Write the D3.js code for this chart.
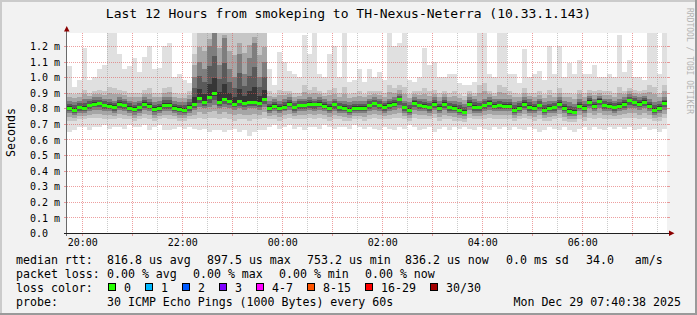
<!DOCTYPE html>
<html><head><meta charset="utf-8">
<script src="https://cdn.jsdelivr.net/npm/d3@7"></script>
<style>
html,body{margin:0;padding:0;background:#f2f2f2;}
svg{display:block;}
text{font-family:"DejaVu Sans Mono",monospace;fill:#000;}
</style></head><body>
<svg id="chart" width="697" height="315"></svg>
<script>
// ---- data (milliseconds), one value per 6-minute column ----
const med = [
0.800,0.790,0.806,0.800,0.820,0.830,0.835,0.820,0.815,0.810,
0.828,0.820,0.805,0.795,0.806,0.828,0.815,0.795,0.800,0.823,
0.823,0.802,0.795,0.790,0.810,0.828,0.864,0.843,0.875,0.897,
0.843,0.860,0.850,0.830,0.845,0.835,0.840,0.840,0.835,0.860,
0.800,0.815,0.800,0.810,0.830,0.806,0.820,0.820,0.828,0.825,
0.830,0.815,0.800,0.825,0.806,0.800,0.790,0.800,0.800,0.800,
0.820,0.832,0.820,0.808,0.822,0.830,0.860,0.806,0.790,0.836,
0.820,0.815,0.806,0.828,0.800,0.828,0.806,0.800,0.790,0.778,
0.830,0.810,0.806,0.820,0.836,0.815,0.820,0.818,0.815,0.790,
0.805,0.828,0.810,0.800,0.820,0.790,0.800,0.806,0.828,0.800,
0.785,0.778,0.815,0.800,0.843,0.815,0.850,0.820,0.815,0.806,
0.815,0.828,0.853,0.840,0.830,0.843,0.815,0.790,0.800,0.836];
const hi = [
1.07,0.94,0.98,1.19,0.98,1.00,1.05,1.08,1.29,1.29,
1.15,1.05,1.07,1.12,1.03,1.13,1.20,1.05,1.06,1.20,
1.22,1.00,1.02,0.98,0.96,1.29,1.29,1.29,1.29,1.29,
1.29,1.29,1.29,1.29,1.29,1.29,1.29,1.29,1.29,1.29,
1.05,0.95,1.16,1.10,1.04,1.02,1.00,1.27,1.15,1.29,
1.02,1.00,1.15,1.20,1.00,1.29,0.97,0.98,1.05,0.97,
1.05,1.00,1.03,0.98,1.29,1.20,1.22,1.29,0.98,0.97,
1.00,1.19,1.08,1.10,1.00,1.00,1.02,1.02,0.96,0.95,
0.95,0.97,1.29,1.29,1.02,1.00,1.29,1.29,1.02,1.02,
0.96,1.18,1.00,1.02,1.04,0.98,1.20,1.02,1.20,1.00,
1.09,1.02,1.11,1.02,1.02,1.08,1.00,1.00,1.02,1.00,
1.27,1.03,1.11,1.00,1.00,0.98,1.29,1.29,1.02,1.29];
const lo = [
0.65,0.66,0.68,0.68,0.66,0.68,0.68,0.69,0.67,0.68,
0.68,0.67,0.69,0.68,0.68,0.69,0.66,0.68,0.69,0.66,
0.66,0.67,0.68,0.67,0.68,0.67,0.66,0.67,0.65,0.66,
0.66,0.65,0.66,0.67,0.65,0.66,0.62,0.65,0.66,0.66,
0.68,0.69,0.67,0.68,0.69,0.67,0.68,0.66,0.68,0.68,
0.67,0.69,0.68,0.67,0.68,0.68,0.67,0.69,0.68,0.67,
0.68,0.67,0.66,0.68,0.67,0.66,0.68,0.67,0.69,0.68,
0.66,0.67,0.68,0.65,0.67,0.68,0.66,0.68,0.67,0.68,
0.67,0.66,0.68,0.67,0.66,0.68,0.67,0.68,0.66,0.68,
0.67,0.66,0.68,0.67,0.65,0.66,0.68,0.67,0.66,0.68,
0.66,0.65,0.67,0.68,0.66,0.68,0.67,0.66,0.68,0.67,
0.68,0.67,0.68,0.66,0.67,0.68,0.66,0.67,0.65,0.67];
const q10 = [
0.72,0.72,0.73,0.73,0.74,0.74,0.74,0.73,0.73,0.73,
0.74,0.73,0.73,0.72,0.73,0.74,0.73,0.72,0.73,0.74,
0.73,0.73,0.72,0.72,0.73,0.73,0.74,0.73,0.74,0.74,
0.73,0.74,0.73,0.72,0.73,0.73,0.72,0.73,0.73,0.74,
0.73,0.73,0.72,0.73,0.74,0.73,0.73,0.73,0.74,0.73,
0.74,0.73,0.72,0.73,0.73,0.72,0.72,0.73,0.73,0.72,
0.73,0.74,0.73,0.73,0.73,0.74,0.74,0.73,0.72,0.74,
0.73,0.73,0.73,0.74,0.72,0.73,0.73,0.72,0.72,0.71,
0.74,0.73,0.73,0.73,0.74,0.73,0.73,0.73,0.73,0.72,
0.73,0.74,0.73,0.72,0.73,0.72,0.72,0.73,0.74,0.72,
0.71,0.71,0.73,0.72,0.74,0.73,0.74,0.73,0.73,0.73,
0.73,0.74,0.74,0.74,0.73,0.74,0.73,0.72,0.72,0.74];
const q25 = [
0.77,0.76,0.77,0.77,0.78,0.79,0.79,0.78,0.78,0.77,
0.79,0.78,0.77,0.76,0.77,0.79,0.78,0.76,0.77,0.78,
0.78,0.77,0.76,0.76,0.77,0.79,0.81,0.80,0.81,0.82,
0.80,0.81,0.80,0.79,0.80,0.79,0.80,0.80,0.79,0.81,
0.77,0.78,0.77,0.78,0.79,0.77,0.78,0.78,0.79,0.78,
0.79,0.78,0.77,0.78,0.77,0.77,0.76,0.77,0.77,0.77,
0.78,0.79,0.78,0.77,0.78,0.79,0.80,0.77,0.76,0.79,
0.78,0.78,0.77,0.79,0.77,0.79,0.77,0.77,0.76,0.75,
0.79,0.77,0.77,0.78,0.79,0.78,0.78,0.78,0.78,0.76,
0.77,0.79,0.77,0.77,0.78,0.76,0.77,0.77,0.79,0.77,
0.75,0.75,0.78,0.77,0.80,0.78,0.80,0.78,0.78,0.77,
0.78,0.79,0.80,0.80,0.79,0.80,0.78,0.76,0.77,0.79];
const q75 = [
0.85,0.84,0.85,0.86,0.86,0.87,0.87,0.86,0.86,0.85,
0.87,0.86,0.85,0.84,0.85,0.87,0.86,0.84,0.85,0.87,
0.87,0.85,0.84,0.84,0.86,1.00,1.10,1.05,1.20,1.29,
1.08,1.25,1.05,1.00,1.15,1.02,1.12,1.22,1.00,1.10,
0.85,0.86,0.85,0.86,0.87,0.85,0.86,0.86,0.87,0.86,
0.87,0.86,0.85,0.86,0.85,0.85,0.84,0.85,0.85,0.85,
0.86,0.87,0.86,0.85,0.86,0.87,0.89,0.85,0.84,0.87,
0.86,0.86,0.85,0.87,0.85,0.87,0.85,0.85,0.84,0.83,
0.87,0.86,0.85,0.86,0.87,0.86,0.86,0.86,0.86,0.84,
0.85,0.87,0.86,0.85,0.86,0.84,0.85,0.85,0.87,0.85,
0.84,0.83,0.86,0.85,0.88,0.86,0.88,0.86,0.86,0.85,
0.86,0.87,0.89,0.88,0.87,0.88,0.86,0.84,0.85,0.87];
const q90 = [
0.90,0.89,0.90,0.92,0.90,0.91,0.92,0.91,0.94,0.93,
0.92,0.91,0.90,0.90,0.90,0.92,0.93,0.90,0.90,0.93,
0.94,0.90,0.89,0.89,0.91,1.15,1.29,1.29,1.29,1.29,
1.29,1.29,1.29,1.29,1.29,1.29,1.29,1.29,1.29,1.29,
0.91,0.89,0.92,0.91,0.91,0.90,0.90,0.95,0.92,0.94,
0.91,0.90,0.92,0.93,0.90,0.94,0.89,0.90,0.91,0.89,
0.91,0.91,0.91,0.90,0.95,0.93,0.95,0.94,0.89,0.91,
0.91,0.93,0.91,0.92,0.90,0.91,0.90,0.91,0.89,0.88,
0.91,0.90,0.95,0.96,0.91,0.90,0.95,0.94,0.91,0.90,
0.89,0.93,0.90,0.90,0.91,0.89,0.92,0.90,0.93,0.90,
0.90,0.89,0.92,0.90,0.92,0.91,0.92,0.91,0.91,0.90,
0.94,0.91,0.93,0.92,0.91,0.92,0.95,0.94,0.90,0.95];

const yTicks = [0,0.1,0.2,0.3,0.4,0.5,0.6,0.7,0.8,0.9,1.0,1.1,1.2];
const timeLabels = ["20:00","22:00","00:00","02:00","04:00","06:00"];
const lossLabels = ["0","1","2","3","4-7","8-15","16-29","30/30"];
const lossColors = ["#26ff00","#00b8ff","#0059ff","#7e00ff","#ff00ff","#ff5500","#ff0000","#a10000"];
const titleText = "Last 12 Hours from smokeping to TH-Nexus-Neterra (10.33.1.143)";
const rttStats = ["816.8 us avg","897.5 us max","753.2 us min","836.2 us now","0.0 ms sd","34.0   am/s"];
const lossStats = ["0.00 % avg","0.00 % max","0.00 % min","0.00 % now"];
const probeText = "30 ICMP Echo Pings (1000 Bytes) every 60s";
const dateText = "Mon Dec 29 07:40:38 2025";

// ---- layout ----
const W=697,H=315, L=67, R=667, T=33, B=233;
const svg = d3.select("#chart");
const t0 = new Date(2025,11,28,19,41,36);
const stepMs = 6*60000;
const n = med.length;
const times = d3.range(n+1).map(i=>new Date(t0.getTime()+i*stepMs));
const x = d3.scaleTime().domain([times[0],times[n]]).range([L,R]);
const y = d3.scaleLinear().domain([0,1.2834]).range([B,T]);

// frame
svg.append("rect").attr("width",W).attr("height",H).attr("fill","#f2f2f2");
svg.append("path").attr("d",`M0,0H${W}V2H2V${H}H0Z`).attr("fill","#cbcbcb");
svg.append("path").attr("d",`M${W},0V${H}H0V${H-2}H${W-2}V0Z`).attr("fill","#9a9a9a");
svg.append("rect").attr("x",L).attr("y",T).attr("width",R-L).attr("height",B-T).attr("fill","#fff");

svg.append("clipPath").attr("id","plot").append("rect").attr("x",L).attr("y",T).attr("width",R-L).attr("height",B-T);
const g = svg.append("g").attr("clip-path","url(#plot)").attr("shape-rendering","crispEdges");
const idx = d3.range(n+1);
const c = i=>Math.min(i,n-1);
const lerp=(a,b,t)=>a+(b-a)*t;
function band(lowF, highF, color){
  const a = d3.area().curve(d3.curveStepAfter)
    .x(i=>x(times[i])).y0(i=>y(lowF(c(i)))).y1(i=>y(highF(c(i))));
  g.append("path").attr("d",a(idx)).attr("fill",color);
}
band(i=>lo[i], i=>hi[i], "#e0e0e0");
band(i=>q10[i], i=>q90[i], "#c6c6c6");
band(i=>lerp(q10[i],q25[i],0.5), i=>lerp(q90[i],q75[i],0.5), "#a6a6a6");
band(i=>q25[i], i=>q75[i], "#7e7e7e");
band(i=>lerp(q25[i],med[i],0.4), i=>lerp(q75[i],med[i],0.4), "#5a5a5a");
band(i=>lerp(q25[i],med[i],0.75), i=>lerp(q75[i],med[i],0.75), "#363636");

// grid (drawn over smoke)
const grid = svg.append("g");
const mg = "rgba(222,80,80,0.55)", ng = "rgba(140,140,140,0.45)";
const hourTicks = d3.timeHour.range(new Date(t0.getTime()+1), times[n]);
const halfTicks = d3.timeMinute.every(30).range(new Date(t0.getTime()+1), times[n]).filter(d=>d.getMinutes()===30);
halfTicks.forEach(d=>{
  const xx=Math.round(x(d))+0.5;
  grid.append("line").attr("x1",xx).attr("x2",xx).attr("y1",T).attr("y2",B).attr("stroke",ng).attr("stroke-dasharray","1,1");
});
hourTicks.forEach(d=>{
  const xx=Math.round(x(d))+0.5;
  grid.append("line").attr("x1",xx).attr("x2",xx).attr("y1",T).attr("y2",B).attr("stroke",mg).attr("stroke-dasharray","1,1");
  grid.append("line").attr("x1",xx).attr("x2",xx).attr("y1",B).attr("y2",B+3).attr("stroke",mg);
});
yTicks.filter(v=>v>0).forEach(v=>{
  const yy=Math.round(y(v))+0.5;
  grid.append("line").attr("x1",L).attr("x2",R).attr("y1",yy).attr("y2",yy).attr("stroke",mg).attr("stroke-dasharray","1,1");
  grid.append("line").attr("x1",L-3).attr("x2",L).attr("y1",yy).attr("y2",yy).attr("stroke",mg);
  grid.append("line").attr("x1",R).attr("x2",R+3).attr("y1",yy).attr("y2",yy).attr("stroke",mg);
});

// median (loss colour 0)
svg.append("g").attr("shape-rendering","crispEdges").selectAll("rect").data(med).join("rect")
  .attr("x",(d,i)=>x(times[i])).attr("width",(d,i)=>x(times[i+1])-x(times[i]))
  .attr("y",d=>Math.round(y(d))-1.5).attr("height",3).attr("fill",lossColors[0]);

// axes lines + arrows
svg.append("line").attr("x1",L-0.5).attr("x2",L-0.5).attr("y1",B+3).attr("y2",28).attr("stroke","#6a6a6a");
svg.append("line").attr("x1",L-3).attr("x2",671).attr("y1",B+0.5).attr("y2",B+0.5).attr("stroke","#202020");
svg.append("path").attr("d","M64,31.5L69.5,31.5L66.75,26Z").attr("fill","#8b0000");
svg.append("path").attr("d","M669,230.5L669,236L674.5,233.25Z").attr("fill","#8b0000");

// y axis labels via d3 axis
const yAxis = d3.axisLeft(y).tickValues(yTicks).tickSize(0)
  .tickFormat(v=> v===0 ? "0.0" : d3.format(".1f")(v)+" m");
const ya = svg.append("g").attr("transform",`translate(${L},0)`).call(yAxis);
ya.select(".domain").remove();
ya.selectAll("text").attr("x",-37).attr("text-anchor","start").attr("dy","0.36em")
  .style("font-family","DejaVu Sans Mono").style("font-size","10px").attr("fill","#000");

// x axis labels via d3 axis
const labelTimes = timeLabels.map(s=>{
  const [h,m]=s.split(":").map(Number);
  const d=new Date(t0); d.setHours(h,m,0,0);
  if(d<t0) d.setDate(d.getDate()+1);
  return d;
});
const xAxis = d3.axisBottom(x).tickValues(labelTimes).tickSize(0).tickPadding(6)
  .tickFormat((d,i)=>timeLabels[i]);
const xa = svg.append("g").attr("transform",`translate(0,${B})`).call(xAxis);
xa.select(".domain").remove();
xa.selectAll("text").style("font-family","DejaVu Sans Mono").style("font-size","10px").attr("fill","#000");

// title, y label, watermark
svg.append("text").attr("x",348.5).attr("y",18).attr("text-anchor","middle").style("font-size","13px").text(titleText);
svg.append("text").attr("transform","translate(14.5,132.5) rotate(-90)").attr("text-anchor","middle").style("font-size","11.6px").text("Seconds");
svg.append("text").attr("transform","translate(686.5,8) rotate(90)").style("font-size","8px").style("fill","#b4b4b4").text("RRDTOOL / TOBI OETIKER");

// legend
const fs="11.6px";
const leg = svg.append("g").style("font-size",fs);
const r1=263.5, r2=277.5, r3=291.5, r4=305.5;
leg.append("text").attr("x",16).attr("y",r1).text("median rtt:");
[107,207,307,405,506,586].forEach((xx,i)=>leg.append("text").attr("x",xx).attr("y",r1).attr("xml:space","preserve").text(rttStats[i]));
leg.append("text").attr("x",16).attr("y",r2).text("packet loss:");
[107,193,279,365].forEach((xx,i)=>leg.append("text").attr("x",xx).attr("y",r2).text(lossStats[i]));
leg.append("text").attr("x",16).attr("y",r3).text("loss color:");
let bx=108;
lossLabels.forEach((lab,i)=>{
  leg.append("rect").attr("x",bx+0.5).attr("y",283.5).attr("width",7).attr("height",7)
    .attr("fill",lossColors[i]).attr("stroke","#000").attr("stroke-width",1);
  leg.append("text").attr("x",bx+16).attr("y",r3).text(lab);
  bx += 16 + lab.length*7 + 14;
});
leg.append("text").attr("x",16).attr("y",r4).text("probe:");
leg.append("text").attr("x",107).attr("y",r4).text(probeText);
leg.append("text").attr("x",681).attr("y",r4).attr("text-anchor","end").text(dateText);
</script>
</body></html>
